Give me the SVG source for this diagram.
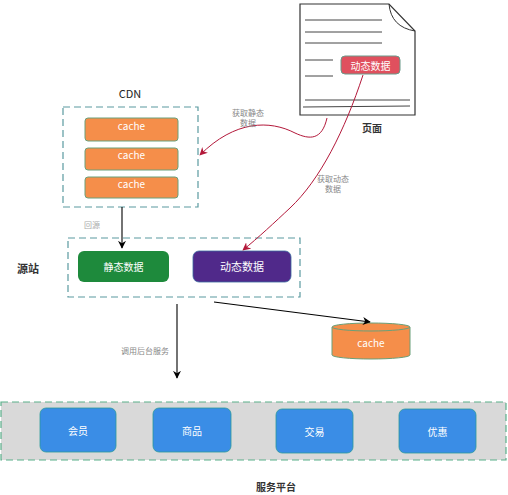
<svg xmlns="http://www.w3.org/2000/svg" width="508" height="495" viewBox="0 0 508 495">
<defs>
<style>
text{font-family:"Noto Sans CJK SC","Liberation Sans",sans-serif;text-anchor:middle;dominant-baseline:central}
.lbl{font-size:10px;fill:#333;font-weight:bold}
.small{font-size:8px;fill:#888}
.wt{fill:#fff;font-size:10px}
.dash{fill:none;stroke:#5a9aa0;stroke-width:1.2;stroke-dasharray:7 4}
.cache{fill:#f58e4a;stroke:#6aa07a;stroke-width:1}
.svc{fill:#3a8de6;stroke:#2b9a9a;stroke-width:0.8}
.line{stroke:#444;stroke-width:1}
.blk{fill:none;stroke:#000;stroke-width:1.1}
.red{fill:none;stroke:#b3183a;stroke-width:1}
</style>
<marker id="ab" viewBox="0 0 10 10" refX="9" refY="5" markerWidth="8" markerHeight="8" orient="auto" markerUnits="userSpaceOnUse"><path d="M0,0 L10,5 L0,10 L3,5 Z" fill="#000"/></marker>
<marker id="ar" viewBox="0 0 10 10" refX="9" refY="5" markerWidth="8" markerHeight="8" orient="auto" markerUnits="userSpaceOnUse"><path d="M0,0 L10,5 L0,10 L3,5 Z" fill="#b3183a"/></marker>
</defs>
<rect width="508" height="495" fill="#fff"/>

<g id="page">
<path d="M300,4 L389,4 L415,31 L415,115 L300,115 Z" fill="#fff" stroke="#333" stroke-width="1.2"/>
<path d="M389,4 Q391,27 415,31" fill="none" stroke="#333" stroke-width="1"/>
<line class="line" x1="305" y1="20" x2="382" y2="20"/>
<line class="line" x1="305" y1="32" x2="382" y2="32"/>
<line class="line" x1="305" y1="43" x2="382" y2="43"/>
<line class="line" x1="305" y1="60" x2="333" y2="60"/>
<line class="line" x1="305" y1="76" x2="333" y2="76"/>
<line class="line" x1="305" y1="100" x2="410" y2="100"/>
<line class="line" x1="303" y1="107" x2="410" y2="106"/>
<text class="lbl" x="372" y="127">页面</text>
</g>
<g id="badge">
<rect x="341" y="56" width="59" height="18" rx="4" fill="#e0505e" stroke="#6a9a8a" stroke-width="1"/>
<text class="wt" x="370.500" y="65">动态数据</text>
</g>

<g id="cdn">
<text x="130" y="93" style="font-size:11px;fill:#222">CDN</text>
<rect class="dash" x="63" y="107" width="135" height="100"/>
<rect class="cache" x="85" y="118" width="93" height="23" rx="3"/>
<text class="wt" x="131.500" y="125.500">cache</text>
<rect class="cache" x="85" y="148" width="93" height="22" rx="3"/>
<text class="wt" x="131.500" y="154">cache</text>
<rect class="cache" x="85" y="177" width="93" height="21" rx="3"/>
<text class="wt" x="131.500" y="183">cache</text>
</g>

<g id="origin">
<text class="lbl" x="28" y="268" style="font-size:11px">源站</text>
<rect class="dash" x="68" y="238" width="232" height="59"/>
</g>
<g id="static">
<rect x="78" y="251" width="91" height="31" rx="6" fill="#1e8a3c"/>
<text class="wt" x="123.500" y="266">静态数据</text>
</g>
<g id="dynamic">
<rect x="193" y="251" width="98" height="31" rx="6" fill="#50298a" stroke="#3a6aa0" stroke-width="0.8"/>
<text class="wt" x="242" y="266" style="font-size:11px">动态数据</text>
</g>

<g id="cache-db">
<path d="M332,327 L332,355 A39,4 0 0 0 410,355 L410,327" class="cache"/>
<ellipse cx="371" cy="327" rx="39" ry="4" class="cache"/>
<text class="wt" x="371" y="342">cache</text>
</g>

<g id="platform">
<rect x="1" y="402" width="505" height="58" fill="#d9d9d9" stroke="#5ab08a" stroke-width="1.2" stroke-dasharray="7 4"/>
<text class="lbl" x="276" y="486">服务平台</text>
</g>
<g id="member"><rect class="svc" x="40" y="408" width="76" height="44" rx="6"/><text class="wt" x="78" y="430">会员</text></g>
<g id="goods"><rect class="svc" x="153" y="408" width="78" height="44" rx="6"/><text class="wt" x="192" y="430">商品</text></g>
<g id="trade"><rect class="svc" x="276" y="409" width="77" height="44" rx="6"/><text class="wt" x="314.500" y="431">交易</text></g>
<g id="promo"><rect class="svc" x="399" y="409" width="77" height="44" rx="6"/><text class="wt" x="437.500" y="431">优惠</text></g>

<g id="connectors">
<line class="blk" x1="122" y1="207" x2="122" y2="248" marker-end="url(#ab)"/>
<text class="small" x="92" y="224" style="fill:#aaa">回源</text>
<line class="blk" x1="177" y1="304" x2="177" y2="378" marker-end="url(#ab)"/>
<text class="small" x="145" y="350">调用后台服务</text>
<line class="blk" x1="214" y1="302" x2="370" y2="322" marker-end="url(#ab)"/>
<path class="red" d="M327,118 C322,140 310,140 295,133 C270,120 235,120 200,155" marker-end="url(#ar)"/>
<text class="small" x="248" y="112">获取静态</text>
<text class="small" x="248" y="122">数据</text>
<path class="red" d="M363,75 C345,130 320,180 290,208 C275,222 258,238 243,250" marker-end="url(#ar)"/>
<text class="small" x="333" y="178">获取动态</text>
<text class="small" x="333" y="188">数据</text>
</g>
</svg>
